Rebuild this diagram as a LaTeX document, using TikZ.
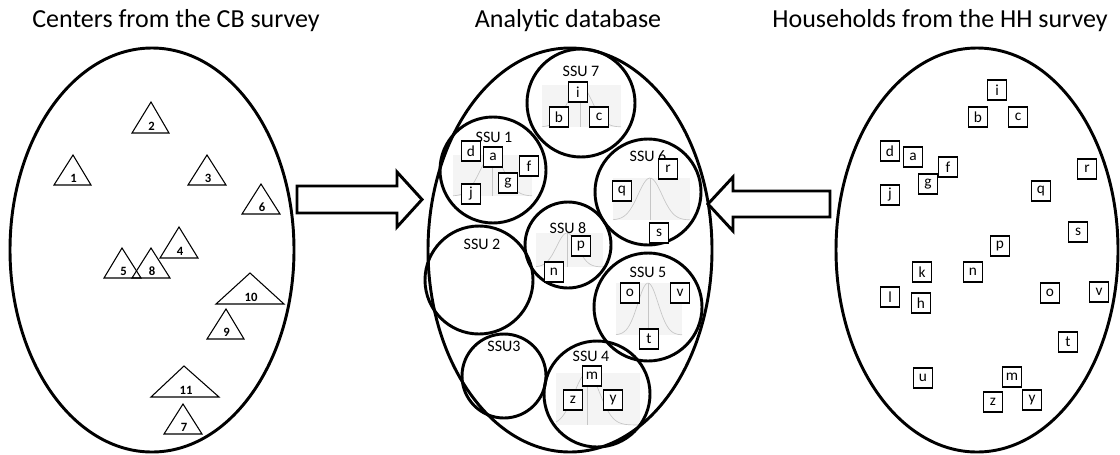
\documentclass[tikz,border=0pt]{standalone}
\usepackage{fontspec}
\setmainfont{Carlito}
\newcommand{\bellcurve}[5]{%
  \fill[bellbg] (#1,#3) rectangle (#2,#4);
  \draw[bellline] (#5,#3) -- (#5,#4);
  \draw[bellline] plot[domain=#1:#2, samples=41, smooth] (\x, {#4-(#4-#3)*exp(-((\x-#5)/((#2-#1)/6.5))^2/2)});
}
\begin{document}
\begin{tikzpicture}[x=0.75pt,y=-0.75pt,
  title/.style={font=\fontsize{19.5}{22}\selectfont, anchor=base, inner sep=0pt},
  big/.style={line width=2.2pt},
  tri/.style={line width=0.8pt, line join=miter},
  trilabel/.style={font=\fontsize{9.5}{11}\selectfont\bfseries, inner sep=0pt, anchor=base},
  ssu/.style={line width=2.2pt},
  ssulabel/.style={font=\fontsize{12}{14}\selectfont, inner sep=0pt, anchor=base},
  item/.style={draw, line width=1pt, fill=white, minimum width=14pt, minimum height=15pt, inner sep=0pt, font=\fontsize{11.5}{13}\selectfont},
  bellbg/.style={fill=gray!9},
  bellline/.style={gray!45, line width=0.5pt},
  blockarrow/.style={line width=2.2pt, line join=miter, fill=white}
]
\useasboundingbox (0,0) rectangle (1120,454);

% titles
\node[title] (t1) at (176,27) {Centers from the CB survey};
\node[title] (t2) at (568,27) {Analytic database};
\node[title] (t3) at (940,27) {Households from the HH survey};

% ellipses
\draw[big] (152,250) ellipse [x radius=142, y radius=202];
\draw[big] (570,250) ellipse [x radius=142, y radius=202];
\draw[big] (977,250) ellipse [x radius=141, y radius=202];
\coordinate (L) at (152,250);
\coordinate (M) at (570,250);
\coordinate (R) at (977,250);

% block arrows
\draw[blockarrow] (297,186) -- (397,186) -- (397,172) -- (422,199.5) -- (397,227) -- (397,213) -- (297,213) -- cycle;
\draw[blockarrow] (830,191) -- (733,191) -- (733,177) -- (708,204) -- (733,231) -- (733,217) -- (830,217) -- cycle;

% triangles: apex x, apex y, base y, left, right, label, label baseline
\foreach \ax/\ay/\by/\lx/\rx/\lab/\ly in {
  151/102/133/132/169/2/130,
  73/155/185/54/91/1/182,
  207/155/185/188/226/3/182,
  261/184/214/242/280/6/211,
  179/227/258/160/198/4/255,
  122/248/278/104/141/5/275,
  151/248/278/132/170/8/275,
  250/273/304/216/284/10/301,
  226/309/339/207/244/9/336,
  184/366/397/151/219/11/394,
  183/404/434/164/202/7/431}{
  \draw[tri] (\ax,\ay) -- (\rx,\by) -- (\lx,\by) -- cycle;
  \node[trilabel] (tl\lab) at ({(\lx+\rx)/2+1},\ly) {\lab};
}

% SSU circles with bell backgrounds
% SSU 7
\begin{scope}
\clip (581,103) circle [radius=54];
\bellcurve{542}{621}{85}{127}{580}
\end{scope}
\draw[ssu] (581,103) circle [radius=54];
\node[ssulabel] (s7) at (581,76) {SSU 7};
% SSU 1
\begin{scope}
\clip (493,170) circle [radius=53];
\bellcurve{453}{532}{155}{196}{492}
\end{scope}
\draw[ssu] (493,170) circle [radius=53];
\node[ssulabel] (s1) at (494,142) {SSU 1};
% SSU 6
\begin{scope}
\clip (648,192) circle [radius=53];
\bellcurve{613}{690}{178}{220}{650}
\end{scope}
\draw[ssu] (648,192) circle [radius=53];
\node[ssulabel] (s6) at (648,161) {SSU 6};
% SSU 8
\begin{scope}
\clip (568,245) circle [radius=43];
\bellcurve{536}{603}{233}{267}{567}
\end{scope}
\draw[ssu] (568,245) circle [radius=43];
\node[ssulabel] (s8) at (568,233) {SSU 8};
% SSU 2
\draw[ssu] (479,280) circle [radius=54];
\node[ssulabel] (s2) at (482,249) {SSU 2};
% SSU 5
\begin{scope}
\clip (648,307) circle [radius=54];
\bellcurve{616}{682}{283}{335}{648}
\end{scope}
\draw[ssu] (648,307) circle [radius=54];
\node[ssulabel] (s5) at (648,277) {SSU 5};
% SSU3
\draw[ssu] (504,376) circle [radius=42];
\node[ssulabel] (s3) at (504,351) {SSU3};
% SSU 4
\begin{scope}
\clip (597,394) circle [radius=53];
\bellcurve{556}{640}{373}{425}{587}
\end{scope}
\draw[ssu] (597,394) circle [radius=53];
\node[ssulabel] (s4) at (591,361) {SSU 4};

% items in the analytic database
\foreach \nm/\x/\y in {i/578/92, b/559/117, c/599/117,
  d/471/151, a/493/157, f/529/166, g/508/183, j/471/194,
  p/581/246, n/554/272,
  r/668/169, q/622/191, s/659/233,
  o/630/293, v/680/293, t/649/339,
  m/592/376, z/573/400, y/613/400}{
  \node[item] (db-\nm) at (\x,\y) {\nm};
}

% households
\foreach \nm/\x/\y in {i/997/90, b/978/117, c/1018/117,
  d/890/151, a/913/157, f/948/167, g/928/184, j/890/195,
  r/1087/169, q/1041/191, s/1078/232, p/1000/246,
  k/922/272, n/973/272, l/890/297, h/921/303,
  o/1050/293, v/1099/292, t/1068/342,
  u/923/378, m/1012/377, z/993/402, y/1032/400}{
  \node[item] (hh-\nm) at (\x,\y) {\nm};
}
\end{tikzpicture}
\end{document}
